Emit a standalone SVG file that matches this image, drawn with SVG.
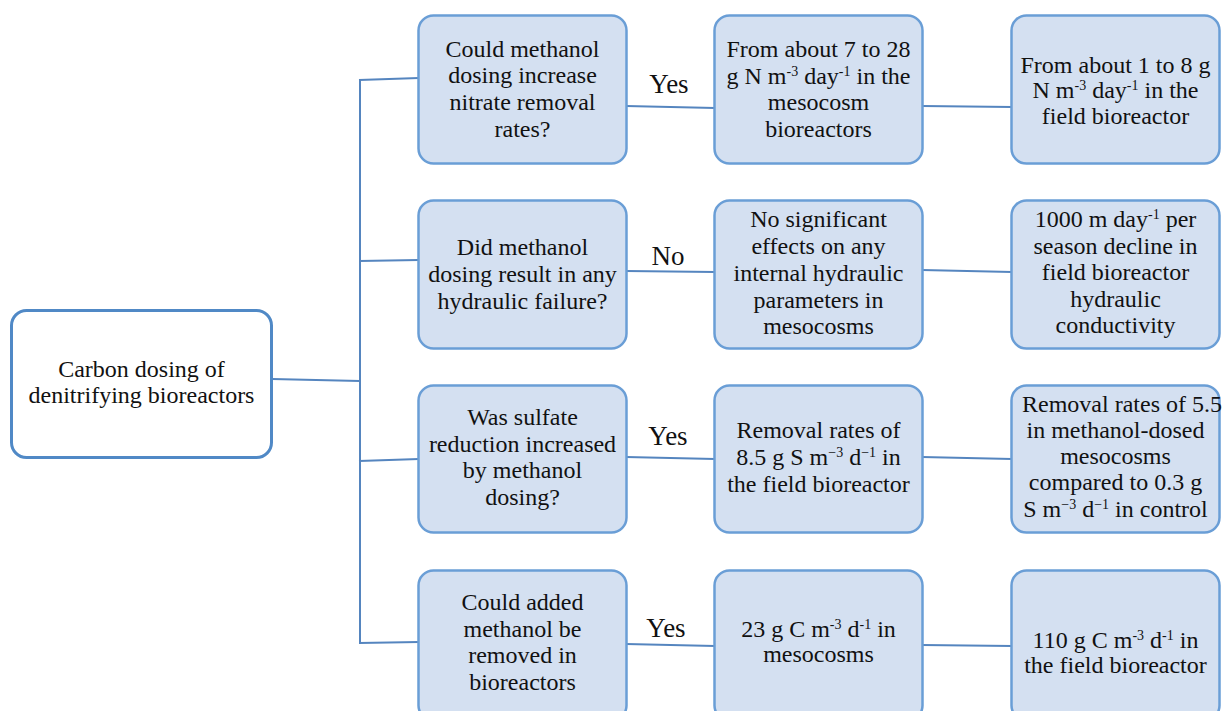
<svg xmlns="http://www.w3.org/2000/svg" width="1223" height="711" viewBox="0 0 1223 711">
<style>
.box{fill:#d4e0f1;stroke:#6a9ed6;stroke-width:2.5}
.root{fill:#ffffff;stroke:#5089c6;stroke-width:3}
.t{font-family:"Liberation Serif","Times New Roman",serif;font-size:24px;fill:#111;text-anchor:middle}
.lbl{font-family:"Liberation Serif","Times New Roman",serif;font-size:27px;fill:#111}
.sup{font-size:14px}
#connectors line{stroke:#5585bf;stroke-width:2;fill:none}
</style>
<rect width="1223" height="711" fill="#ffffff"/>
<g id="connectors">
<line x1="272" y1="379" x2="360" y2="381"/>
<line x1="360" y1="79" x2="360" y2="644"/>
<line x1="359" y1="80" x2="419" y2="78"/>
<line x1="359" y1="261" x2="419" y2="260"/>
<line x1="359" y1="461" x2="419" y2="459"/>
<line x1="359" y1="643" x2="419" y2="642"/>
<line x1="626" y1="106" x2="715" y2="108"/>
<line x1="626" y1="271" x2="715" y2="272"/>
<line x1="626" y1="457" x2="715" y2="459"/>
<line x1="626" y1="644" x2="715" y2="646"/>
<line x1="922" y1="106" x2="1012" y2="107"/>
<line x1="922" y1="270" x2="1012" y2="272"/>
<line x1="922" y1="457" x2="1012" y2="459"/>
<line x1="922" y1="645" x2="1012" y2="646"/>
<text class="lbl" x="669" y="93" text-anchor="middle">Yes</text>
<text class="lbl" x="668" y="265" text-anchor="middle">No</text>
<text class="lbl" x="668" y="445" text-anchor="middle">Yes</text>
<text class="lbl" x="666" y="637" text-anchor="middle">Yes</text>
</g>
<g id="root">
<rect class="root" x="11.5" y="310.5" width="260" height="147" rx="15"/>
<text class="t" x="141.5" y="377">Carbon dosing of</text>
<text class="t" x="141.5" y="403">denitrifying bioreactors</text>
</g>
<g id="q1">
<rect class="box" x="418.5" y="15.5" width="208" height="148" rx="15"/>
<text class="t" x="522.5" y="56.5">Could methanol</text>
<text class="t" x="522.5" y="83">dosing increase</text>
<text class="t" x="522.5" y="110">nitrate removal</text>
<text class="t" x="522.5" y="137">rates?</text>
</g>
<g id="a1">
<rect class="box" x="714.5" y="15.5" width="208" height="148" rx="15"/>
<text class="t" x="818.5" y="56.5">From about 7 to 28</text>
<text class="t" x="818.5" y="84">g N m<tspan class="sup" dy="-8">-3</tspan><tspan dy="8"> day</tspan><tspan class="sup" dy="-8">-1</tspan><tspan dy="8"> in the</tspan></text>
<text class="t" x="818.5" y="110">mesocosm</text>
<text class="t" x="818.5" y="136.5">bioreactors</text>
</g>
<g id="b1">
<rect class="box" x="1011.5" y="15.5" width="208" height="148" rx="15"/>
<text class="t" x="1115.5" y="73">From about 1 to 8 g</text>
<text class="t" x="1115.5" y="98">N m<tspan class="sup" dy="-8">-3</tspan><tspan dy="8"> day</tspan><tspan class="sup" dy="-8">-1</tspan><tspan dy="8"> in the</tspan></text>
<text class="t" x="1115.5" y="123.5">field bioreactor</text>
</g>
<g id="q2">
<rect class="box" x="418.5" y="200.5" width="208" height="148" rx="15"/>
<text class="t" x="522.5" y="255">Did methanol</text>
<text class="t" x="522.5" y="282">dosing result in any</text>
<text class="t" x="522.5" y="308.5">hydraulic failure?</text>
</g>
<g id="a2">
<rect class="box" x="714.5" y="200.5" width="208" height="148" rx="15"/>
<text class="t" x="818.5" y="227">No significant</text>
<text class="t" x="818.5" y="254">effects on any</text>
<text class="t" x="818.5" y="281">internal hydraulic</text>
<text class="t" x="818.5" y="307.5">parameters in</text>
<text class="t" x="818.5" y="334">mesocosms</text>
</g>
<g id="b2">
<rect class="box" x="1011.5" y="200.5" width="208" height="148" rx="15"/>
<text class="t" x="1115.5" y="227">1000 m day<tspan class="sup" dy="-8">-1</tspan><tspan dy="8"> per</tspan></text>
<text class="t" x="1115.5" y="253.5">season decline in</text>
<text class="t" x="1115.5" y="280">field bioreactor</text>
<text class="t" x="1115.5" y="306.5">hydraulic</text>
<text class="t" x="1115.5" y="333">conductivity</text>
</g>
<g id="q3">
<rect class="box" x="418.5" y="385.5" width="208" height="147" rx="15"/>
<text class="t" x="522.5" y="425">Was sulfate</text>
<text class="t" x="522.5" y="451.5">reduction increased</text>
<text class="t" x="522.5" y="478">by methanol</text>
<text class="t" x="522.5" y="505">dosing?</text>
</g>
<g id="a3">
<rect class="box" x="714.5" y="385.5" width="208" height="147" rx="15"/>
<text class="t" x="818.5" y="438">Removal rates of</text>
<text class="t" x="818.5" y="465">8.5 g S m<tspan class="sup" dy="-8">−3</tspan><tspan dy="8"> d</tspan><tspan class="sup" dy="-8">−1</tspan><tspan dy="8"> in</tspan></text>
<text class="t" x="818.5" y="491.5">the field bioreactor</text>
</g>
<g id="b3">
<rect class="box" x="1011.5" y="385.5" width="208" height="147" rx="15"/>
<text class="t" x="1122" y="411.5">Removal rates of 5.5</text>
<text class="t" x="1115.5" y="437.5">in methanol-dosed</text>
<text class="t" x="1115.5" y="463.5">mesocosms</text>
<text class="t" x="1115.5" y="490">compared to 0.3 g</text>
<text class="t" x="1115.5" y="516.5">S m<tspan class="sup" dy="-8">−3</tspan><tspan dy="8"> d</tspan><tspan class="sup" dy="-8">−1</tspan><tspan dy="8"> in control</tspan></text>
</g>
<g id="q4">
<rect class="box" x="418.5" y="570.5" width="208" height="150" rx="15"/>
<text class="t" x="522.5" y="610">Could added</text>
<text class="t" x="522.5" y="636.5">methanol be</text>
<text class="t" x="522.5" y="663">removed in</text>
<text class="t" x="522.5" y="690">bioreactors</text>
</g>
<g id="a4">
<rect class="box" x="714.5" y="570.5" width="208" height="150" rx="15"/>
<text class="t" x="818.5" y="636.5">23 g C m<tspan class="sup" dy="-8">-3</tspan><tspan dy="8"> d</tspan><tspan class="sup" dy="-8">-1</tspan><tspan dy="8"> in</tspan></text>
<text class="t" x="818.5" y="662">mesocosms</text>
</g>
<g id="b4">
<rect class="box" x="1011.5" y="570.5" width="208" height="150" rx="15"/>
<text class="t" x="1115.5" y="648">110 g C m<tspan class="sup" dy="-8">-3</tspan><tspan dy="8"> d</tspan><tspan class="sup" dy="-8">-1</tspan><tspan dy="8"> in</tspan></text>
<text class="t" x="1115.5" y="673">the field bioreactor</text>
</g>
</svg>
